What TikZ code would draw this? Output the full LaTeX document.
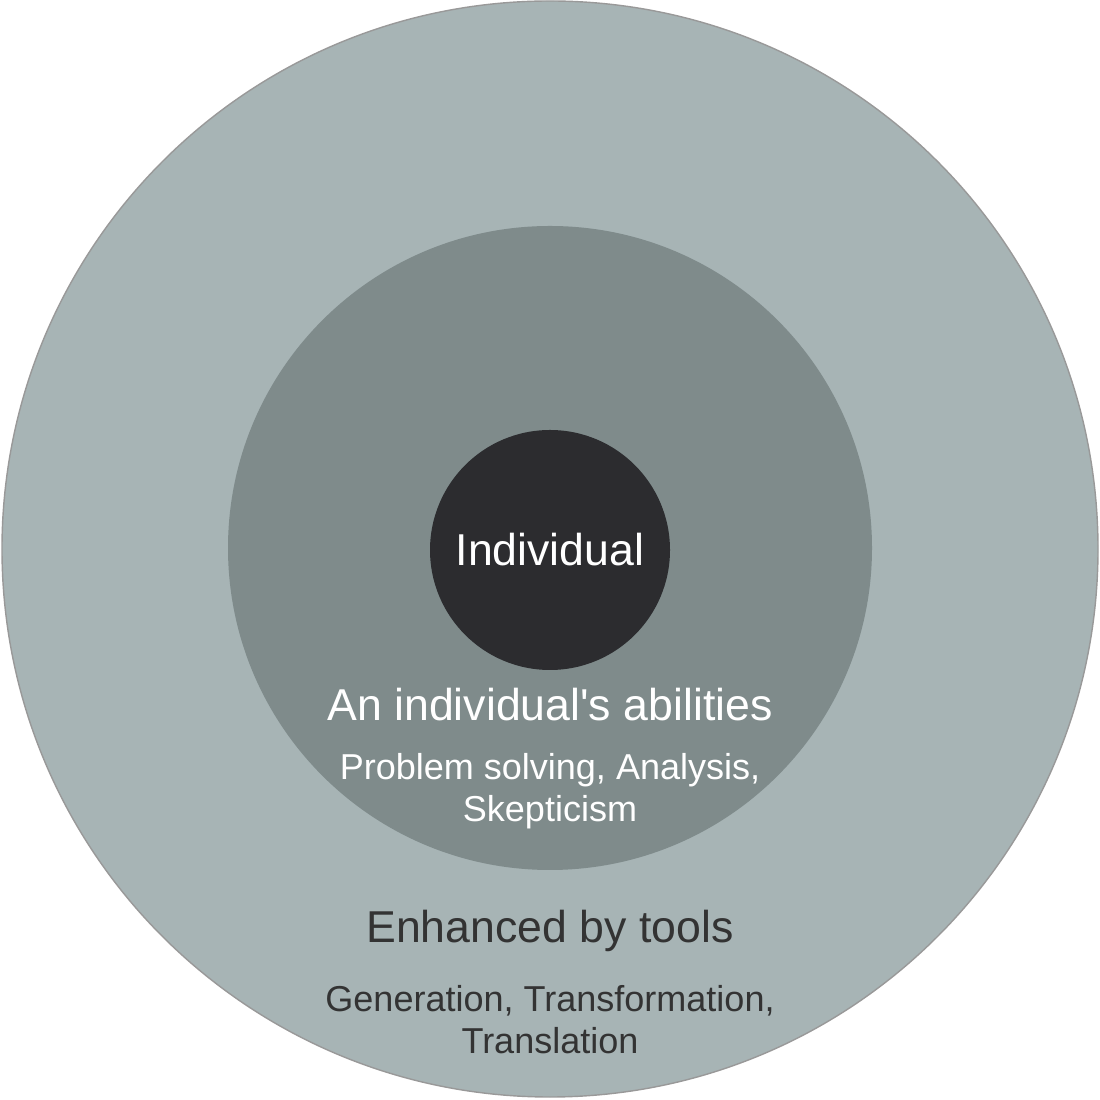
\documentclass[tikz,border=0pt]{standalone}
\usepackage{fontspec}
\setmainfont{Liberation Sans}
\usepackage{tikz}
\usetikzlibrary{positioning}
\definecolor{ringouter}{HTML}{A7B4B5}
\definecolor{ringmiddle}{HTML}{7F8B8B}
\definecolor{coredark}{HTML}{2C2C2F}
\definecolor{darktext}{HTML}{333333}
\tikzset{
  ring/.style={circle, inner sep=0pt, minimum size=#1}
}
\tikzset{
  bigtext/.style={font=\fontsize{12.7}{15}\selectfont},
  smalltext/.style={font=\fontsize{10.25}{12.2}\selectfont, align=center}
}

\begin{document}
\begin{tikzpicture}
  \useasboundingbox (0,0) rectangle (11,11);
  \node[ring=10.96cm, fill=ringouter, draw=gray!80, thin] (tools) at (5.5,5.51) {};
  \node[ring=6.44cm, fill=ringmiddle] (abilities) at (5.5,5.52) {};
  \node[ring=2.4cm, fill=coredark, text=white, bigtext] (individual) at (5.5,5.5) {Individual};
  \node[bigtext, text=white, anchor=base] (abiltitle) at (5.5,3.79) {An individual\textquotesingle s abilities};
  % base of a two-line node is its last line
  \node[smalltext, text=white, anchor=base] (abillist) at (5.5,2.78) {Problem solving, Analysis,\\Skepticism};
  \node[bigtext, text=darktext, anchor=base] (tooltitle) at (5.5,1.57) {Enhanced by tools};
  \node[smalltext, text=darktext, anchor=base] (toollist) at (5.5,0.46) {Generation, Transformation,\\Translation};
\end{tikzpicture}
\end{document}
